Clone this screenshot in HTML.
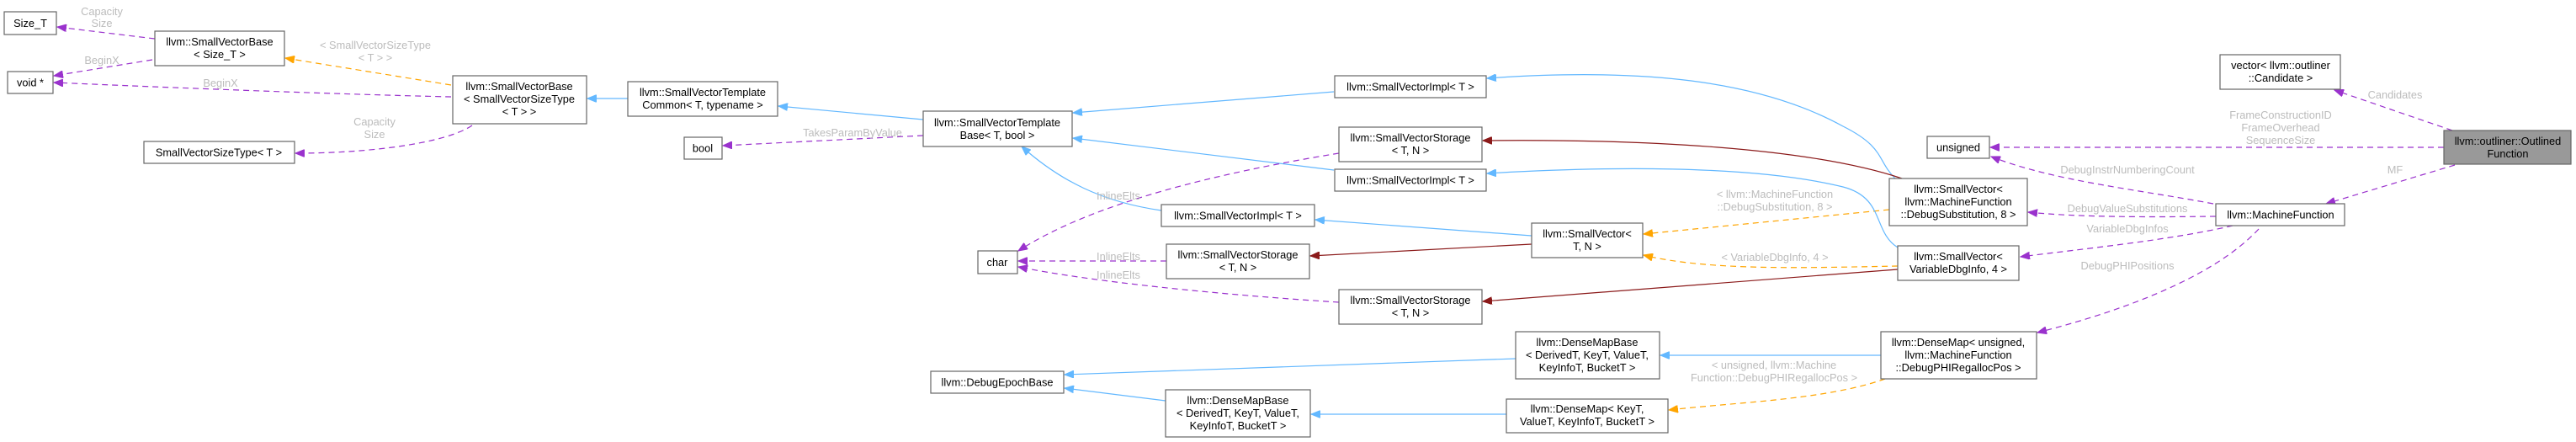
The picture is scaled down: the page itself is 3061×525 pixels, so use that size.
<!DOCTYPE html>
<html><head><meta charset="utf-8"><style>
html,body{margin:0;padding:0;background:#fff;}
svg{display:block;}
text{font-family:"Liberation Sans",sans-serif;font-size:12.8px;text-anchor:middle;}
.n{fill:#fff;stroke:#666;stroke-width:1.2;}
.t{fill:#000;}
.l{fill:#bcbcbc;}
.b{stroke:#63b8ff;fill:none;stroke-width:1.2;}
.p{stroke:#9a32cd;fill:none;stroke-width:1.2;stroke-dasharray:7,5;}
.o{stroke:#ffa500;fill:none;stroke-width:1.2;stroke-dasharray:7,5;}
.r{stroke:#8b1a1a;fill:none;stroke-width:1.2;}
</style></head><body>
<svg width="3061" height="525" viewBox="0 0 3061 525" xmlns="http://www.w3.org/2000/svg">
<defs>
<marker id="mb" markerWidth="12" markerHeight="9" refX="11" refY="4.5" orient="auto" markerUnits="userSpaceOnUse"><path d="M0,0 L11,4.5 L0,9 z" fill="#63b8ff" stroke="#63b8ff"/></marker>
<marker id="mp" markerWidth="12" markerHeight="9" refX="11" refY="4.5" orient="auto" markerUnits="userSpaceOnUse"><path d="M0,0 L11,4.5 L0,9 z" fill="#9a32cd" stroke="#9a32cd"/></marker>
<marker id="mo" markerWidth="12" markerHeight="9" refX="11" refY="4.5" orient="auto" markerUnits="userSpaceOnUse"><path d="M0,0 L11,4.5 L0,9 z" fill="#ffa500" stroke="#ffa500"/></marker>
<marker id="mr" markerWidth="12" markerHeight="9" refX="11" refY="4.5" orient="auto" markerUnits="userSpaceOnUse"><path d="M0,0 L11,4.5 L0,9 z" fill="#8b1a1a" stroke="#8b1a1a"/></marker>
</defs>

<path class="p" marker-end="url(#mp)" d="M184,46 L68,32"/>
<path class="p" marker-end="url(#mp)" d="M181,71 L64,90"/>
<path class="p" marker-end="url(#mp)" d="M536,115 C400,112 200,104 64,98"/>
<path class="o" marker-end="url(#mo)" d="M536,101 L339,69"/>
<path class="p" marker-end="url(#mp)" d="M561,149 C530,170 440,182 351,182"/>
<path class="b" marker-end="url(#mb)" d="M746,117 L698,117"/>
<path class="b" marker-end="url(#mb)" d="M1097,142 L925,126"/>
<path class="p" marker-end="url(#mp)" d="M1097,161 L859,173"/>
<path class="b" marker-end="url(#mb)" d="M1585,109 L1275,134"/>
<path class="b" marker-end="url(#mb)" d="M1585,202 L1275,164"/>
<path class="b" marker-end="url(#mb)" d="M1380,250 C1310,240 1260,215 1214,174"/>
<path class="p" marker-end="url(#mp)" d="M1591,182 C1450,205 1300,240 1210,298"/>
<path class="p" marker-end="url(#mp)" d="M1386,310 L1210,310"/>
<path class="p" marker-end="url(#mp)" d="M1591,359 C1450,350 1300,335 1210,317"/>
<path class="b" marker-end="url(#mb)" d="M1820,280 L1563,261"/>
<path class="r" marker-end="url(#mr)" d="M1820,290 L1557,304"/>
<path class="b" marker-end="url(#mb)" d="M2252,212 C2230,190 2240,175 2190,150 C2090,95 1950,80 1767,93"/>
<path class="r" marker-end="url(#mr)" d="M2260,212 C2150,175 1950,165 1762,167"/>
<path class="o" marker-end="url(#mo)" d="M2245,249 L1953,278"/>
<path class="b" marker-end="url(#mb)" d="M2255,294 C2225,275 2240,235 2190,222 C2080,195 1900,198 1767,206"/>
<path class="o" marker-end="url(#mo)" d="M2255,316 C2150,318 2030,322 1953,303"/>
<path class="r" marker-end="url(#mr)" d="M2255,320 L1762,358"/>
<path class="b" marker-end="url(#mb)" d="M2235,422 L1973,422"/>
<path class="o" marker-end="url(#mo)" d="M2240,450 C2170,475 2060,478 1983,487"/>
<path class="b" marker-end="url(#mb)" d="M1801,426 L1265,445"/>
<path class="b" marker-end="url(#mb)" d="M1385,476 L1265,461"/>
<path class="b" marker-end="url(#mb)" d="M1790,492 L1558,492"/>
<path class="p" marker-end="url(#mp)" d="M2630,242 C2540,225 2440,215 2366,186"/>
<path class="p" marker-end="url(#mp)" d="M2633,257 C2550,258 2470,258 2410,252"/>
<path class="p" marker-end="url(#mp)" d="M2653,268 C2580,285 2480,295 2401,305"/>
<path class="p" marker-end="url(#mp)" d="M2684,272 C2630,330 2520,370 2421,395"/>
<path class="p" marker-end="url(#mp)" d="M2914,155 L2774,107"/>
<path class="p" marker-end="url(#mp)" d="M2904,175 L2365,175"/>
<path class="p" marker-end="url(#mp)" d="M2917,196 L2764,242"/>

<text class="l" x="121" y="18">Capacity</text><text class="l" x="121" y="32">Size</text>
<text class="l" x="121" y="76">BeginX</text>
<text class="l" x="262" y="103">BeginX</text>
<text class="l" x="446" y="58">&lt; SmallVectorSizeType</text><text class="l" x="446" y="73">&lt; T &gt; &gt;</text>
<text class="l" x="445" y="149">Capacity</text><text class="l" x="445" y="164">Size</text>
<text class="l" x="1013" y="162">TakesParamByValue</text>
<text class="l" x="1329" y="237">InlineElts</text>
<text class="l" x="1329" y="309">InlineElts</text>
<text class="l" x="1329" y="331">InlineElts</text>
<text class="l" x="2109" y="235">&lt; llvm::MachineFunction</text><text class="l" x="2109" y="250">::DebugSubstitution, 8 &gt;</text>
<text class="l" x="2109" y="310">&lt; VariableDbgInfo, 4 &gt;</text>
<text class="l" x="2108" y="438">&lt; unsigned, llvm::Machine</text><text class="l" x="2108" y="453">Function::DebugPHIRegallocPos &gt;</text>
<text class="l" x="2846" y="117">Candidates</text>
<text class="l" x="2710" y="141">FrameConstructionID</text><text class="l" x="2710" y="156">FrameOverhead</text><text class="l" x="2710" y="171">SequenceSize</text>
<text class="l" x="2528" y="206">DebugInstrNumberingCount</text>
<text class="l" x="2846" y="206">MF</text>
<text class="l" x="2528" y="252">DebugValueSubstitutions</text>
<text class="l" x="2528" y="276">VariableDbgInfos</text>
<text class="l" x="2528" y="320">DebugPHIPositions</text>

<rect class="n" x="5" y="14" width="62" height="27"/><text class="t" x="36" y="32">Size_T</text>
<rect class="n" x="184" y="37" width="154" height="41"/><text class="t" x="261" y="54">llvm::SmallVectorBase</text><text class="t" x="261" y="69">&lt; Size_T &gt;</text>
<rect class="n" x="9" y="85" width="54" height="26"/><text class="t" x="36" y="102.5">void *</text>
<rect class="n" x="538" y="90" width="159" height="57"/><text class="t" x="617" y="107">llvm::SmallVectorBase</text><text class="t" x="617" y="122">&lt; SmallVectorSizeType</text><text class="t" x="617" y="137">&lt; T &gt; &gt;</text>
<rect class="n" x="171" y="168" width="179" height="26"/><text class="t" x="260" y="185.5">SmallVectorSizeType&lt; T &gt;</text>
<rect class="n" x="746" y="97" width="178" height="41"/><text class="t" x="835" y="114">llvm::SmallVectorTemplate</text><text class="t" x="835" y="129">Common&lt; T, typename &gt;</text>
<rect class="n" x="813" y="163" width="45" height="26"/><text class="t" x="835" y="180.5">bool</text>
<rect class="n" x="1097" y="132" width="177" height="42"/><text class="t" x="1185" y="150">llvm::SmallVectorTemplate</text><text class="t" x="1185" y="165">Base&lt; T, bool &gt;</text>
<rect class="n" x="1586" y="90" width="180" height="26"/><text class="t" x="1676" y="107.5">llvm::SmallVectorImpl&lt; T &gt;</text>
<rect class="n" x="1591" y="151" width="170" height="41"/><text class="t" x="1676" y="168">llvm::SmallVectorStorage</text><text class="t" x="1676" y="183">&lt; T, N &gt;</text>
<rect class="n" x="1586" y="201" width="180" height="26"/><text class="t" x="1676" y="218.5">llvm::SmallVectorImpl&lt; T &gt;</text>
<rect class="n" x="1380" y="243" width="182" height="26"/><text class="t" x="1471" y="260.5">llvm::SmallVectorImpl&lt; T &gt;</text>
<rect class="n" x="1162" y="298" width="47" height="27"/><text class="t" x="1185" y="316">char</text>
<rect class="n" x="1386" y="290" width="170" height="41"/><text class="t" x="1471" y="307">llvm::SmallVectorStorage</text><text class="t" x="1471" y="322">&lt; T, N &gt;</text>
<rect class="n" x="1591" y="344" width="170" height="41"/><text class="t" x="1676" y="361">llvm::SmallVectorStorage</text><text class="t" x="1676" y="376">&lt; T, N &gt;</text>
<rect class="n" x="1820" y="265" width="132" height="41"/><text class="t" x="1886" y="282">llvm::SmallVector&lt;</text><text class="t" x="1886" y="297">T, N &gt;</text>
<rect class="n" x="1106" y="441" width="158" height="26"/><text class="t" x="1185" y="458.5">llvm::DebugEpochBase</text>
<rect class="n" x="1385" y="463" width="172" height="56"/><text class="t" x="1471" y="480">llvm::DenseMapBase</text><text class="t" x="1471" y="495">&lt; DerivedT, KeyT, ValueT,</text><text class="t" x="1471" y="510">KeyInfoT, BucketT &gt;</text>
<rect class="n" x="1801" y="394" width="171" height="56"/><text class="t" x="1886" y="411">llvm::DenseMapBase</text><text class="t" x="1886" y="426">&lt; DerivedT, KeyT, ValueT,</text><text class="t" x="1886" y="441">KeyInfoT, BucketT &gt;</text>
<rect class="n" x="1790" y="474" width="192" height="40"/><text class="t" x="1886" y="490">llvm::DenseMap&lt; KeyT,</text><text class="t" x="1886" y="505">ValueT, KeyInfoT, BucketT &gt;</text>
<rect class="n" x="2245" y="212" width="164" height="56"/><text class="t" x="2327" y="229">llvm::SmallVector&lt;</text><text class="t" x="2327" y="244">llvm::MachineFunction</text><text class="t" x="2327" y="259">::DebugSubstitution, 8 &gt;</text>
<rect class="n" x="2255" y="292" width="144" height="41"/><text class="t" x="2327" y="309">llvm::SmallVector&lt;</text><text class="t" x="2327" y="324">VariableDbgInfo, 4 &gt;</text>
<rect class="n" x="2235" y="394" width="185" height="56"/><text class="t" x="2327" y="411">llvm::DenseMap&lt; unsigned,</text><text class="t" x="2327" y="426">llvm::MachineFunction</text><text class="t" x="2327" y="441">::DebugPHIRegallocPos &gt;</text>
<rect class="n" x="2290" y="162" width="74" height="26"/><text class="t" x="2327" y="179.5">unsigned</text>
<rect class="n" x="2638" y="65" width="143" height="41"/><text class="t" x="2710" y="82">vector&lt; llvm::outliner</text><text class="t" x="2710" y="97">::Candidate &gt;</text>
<rect class="n" x="2633" y="242" width="153" height="26"/><text class="t" x="2710" y="259.5">llvm::MachineFunction</text>
<rect x="2904" y="155" width="151" height="40" fill="#999" stroke="#666" stroke-width="1.2"/><text class="t" x="2980" y="172">llvm::outliner::Outlined</text><text class="t" x="2980" y="187">Function</text>
</svg>
</body></html>
